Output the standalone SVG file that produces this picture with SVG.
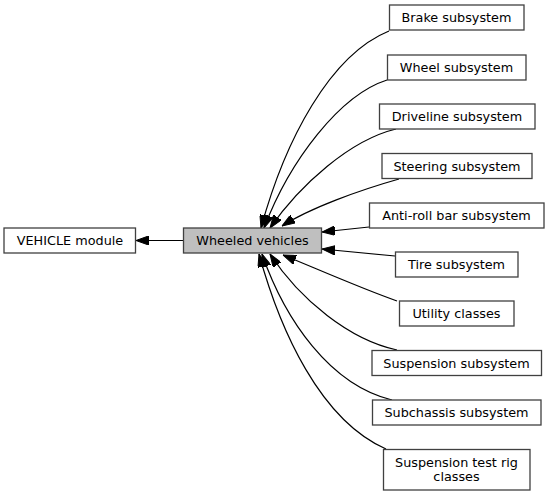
<svg xmlns="http://www.w3.org/2000/svg" width="549" height="495" viewBox="0 0 549 495">
<style>
  .box { fill: #ffffff; stroke: #404040; stroke-width: 1.3; }
  .cur { fill: #bfbfbf; stroke: #404040; stroke-width: 1.3; }
  text { font-family: "DejaVu Sans", "Liberation Sans", sans-serif; font-size: 12.8px; fill: #000; text-anchor: middle; }
  .edge { fill: none; stroke: #000; stroke-width: 1.2; marker-end: url(#ah); }
</style>
<defs>
  <marker id="ah" markerUnits="userSpaceOnUse" viewBox="0 0 13 9.4" refX="13" refY="4.7" markerWidth="13" markerHeight="9.4" orient="auto">
    <path d="M0,0 L13,4.7 L0,9.4 z" fill="#000" stroke="#000" stroke-width="1"/>
  </marker>
</defs>
<rect width="549" height="495" fill="#ffffff"/>
<g id="connectors">
  <path class="edge" d="M183,240.5 L136,240.5"/>
  <path class="edge" d="M389,31 C330,55 285,140 261,228"/>
  <path class="edge" d="M387,80 C340,95 290,160 264,228"/>
  <path class="edge" d="M396,129 C350,140 300,185 270,228"/>
  <path class="edge" d="M399,179 C360,190 310,208 282,226"/>
  <path class="edge" d="M369,227 L322,232"/>
  <path class="edge" d="M395,256 L322,249"/>
  <path class="edge" d="M397,301 C360,288 315,268 283,255"/>
  <path class="edge" d="M397,350 C350,340 300,300 270,254"/>
  <path class="edge" d="M392,400 C330,385 285,320 262,254"/>
  <path class="edge" d="M386,449 C320,420 280,330 259,254"/>
</g>
<g id="vehicle_module">
  <rect class="box" x="4" y="228" width="131.5" height="25"/>
  <text x="70" y="245">VEHICLE module</text>
</g>
<g id="wheeled_vehicles">
  <rect class="cur" x="183.5" y="228" width="138" height="25"/>
  <text x="252.5" y="245">Wheeled vehicles</text>
</g>
<g id="brake">
  <rect class="box" x="389.5" y="5" width="134.5" height="25"/>
  <text x="456.5" y="22">Brake subsystem</text>
</g>
<g id="wheel">
  <rect class="box" x="387.5" y="55" width="138.5" height="25"/>
  <text x="456.5" y="72">Wheel subsystem</text>
</g>
<g id="driveline">
  <rect class="box" x="379.5" y="104" width="155.5" height="25"/>
  <text x="457" y="121">Driveline subsystem</text>
</g>
<g id="steering">
  <rect class="box" x="382" y="153.5" width="150" height="25"/>
  <text x="457" y="170.5">Steering subsystem</text>
</g>
<g id="antiroll">
  <rect class="box" x="369.5" y="203" width="174.5" height="25"/>
  <text x="456.5" y="220">Anti-roll bar subsystem</text>
</g>
<g id="tire">
  <rect class="box" x="395.5" y="252" width="122.5" height="25"/>
  <text x="456.5" y="269">Tire subsystem</text>
</g>
<g id="utility">
  <rect class="box" x="399.5" y="301" width="114.5" height="25"/>
  <text x="456.5" y="318">Utility classes</text>
</g>
<g id="suspension">
  <rect class="box" x="372" y="350.5" width="169.5" height="25"/>
  <text x="456.5" y="367.5">Suspension subsystem</text>
</g>
<g id="subchassis">
  <rect class="box" x="372.5" y="400" width="168.5" height="25"/>
  <text x="456.5" y="417">Subchassis subsystem</text>
</g>
<g id="testrig">
  <rect class="box" x="383.5" y="449.5" width="146.5" height="40.5"/>
  <text x="456.5" y="467">Suspension test rig</text>
  <text x="456.5" y="481">classes</text>
</g>
</svg>
